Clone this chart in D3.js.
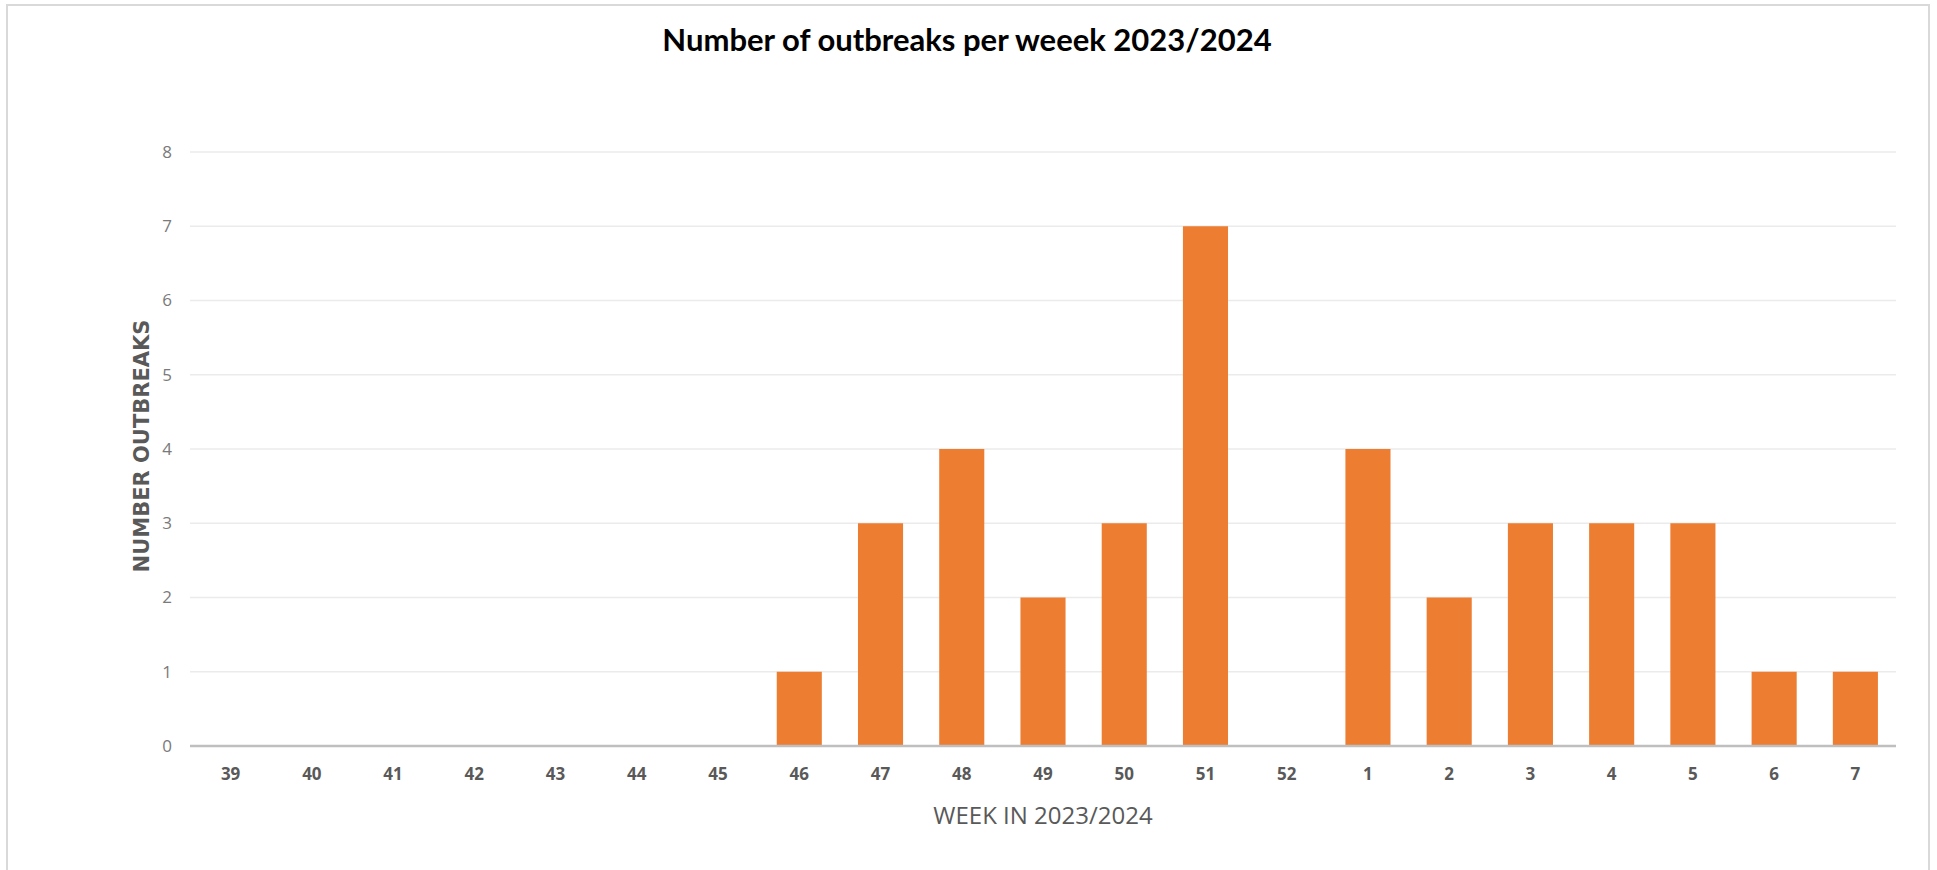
<!DOCTYPE html>
<html lang="en">
<head>
    <meta charset="UTF-8">
    <title>Number of outbreaks per weeek 2023/2024</title>
    <script src="https://cdn.jsdelivr.net/npm/d3@7"></script>
    <style>
        body { margin: 0; background: #fff; }
        svg { display: block; }
    </style>
</head>
<body>
    <main></main>

    <script>
        // weeks of the 2023/2024 season and outbreak counts
        var weeks = ['39', '40', '41', '42', '43', '44', '45', '46', '47', '48', '49', '50', '51', '52',
            '1', '2', '3', '4', '5', '6', '7'];
        var outbreaks = [0, 0, 0, 0, 0, 0, 0, 1, 3, 4, 2, 3, 7, 0, 4, 2, 3, 3, 3, 1, 1];
        var yTicks = [0, 1, 2, 3, 4, 5, 6, 7, 8];

        var width = 1937;
        var height = 870;

        var svg = d3.select('main')
            .append('svg')
            .attr('width', width)
            .attr('height', height);

        // chart area frame
        svg.append('rect')
            .attr('x', 7)
            .attr('y', 5)
            .attr('width', 1922)
            .attr('height', 900)
            .attr('fill', 'none')
            .attr('stroke', '#d9d9d9')
            .attr('stroke-width', 2);

        svg.append('text')
            .attr('x', 967)
            .attr('y', 51)
            .attr('text-anchor', 'middle')
            .style('font-family', 'Lato, "Open Sans", sans-serif')
            .style('font-weight', 'bold')
            .style('font-size', '31px')
            .attr('fill', '#000')
            .text('Number of outbreaks per weeek 2023/2024');

        var x = d3.scaleBand()
            .domain(weeks)
            .range([190, 1896])
            .paddingInner(0.445)
            .paddingOuter(0.2225);

        var y = d3.scaleLinear()
            .domain([0, 8])
            .range([746, 152]);

        // gridlines
        svg.append('g')
            .selectAll('line')
            .data(yTicks.slice(1))
            .enter()
            .append('line')
            .attr('x1', 190)
            .attr('x2', 1896)
            .attr('y1', d => y(d))
            .attr('y2', d => y(d))
            .attr('stroke', '#ebebeb')
            .attr('stroke-width', 1.5);

        // y tick labels
        svg.append('g')
            .selectAll('text')
            .data(yTicks)
            .enter()
            .append('text')
            .attr('x', 172)
            .attr('y', d => y(d))
            .attr('dy', '0.35em')
            .attr('text-anchor', 'end')
            .style('font-family', '"Open Sans", sans-serif')
            .style('font-size', '17px')
            .attr('fill', '#7a7a7a')
            .text(d => d);

        svg.append('g')
            .selectAll('rect')
            .data(outbreaks)
            .enter()
            .append('rect')
            .attr('x', (d, i) => x(weeks[i]))
            .attr('y', d => y(d))
            .attr('width', x.bandwidth())
            .attr('height', d => y(0) - y(d))
            .attr('fill', '#ed7d31');

        // baseline
        svg.append('line')
            .attr('x1', 190)
            .attr('x2', 1896)
            .attr('y1', y(0))
            .attr('y2', y(0))
            .attr('stroke', '#bfbfbf')
            .attr('stroke-width', 2.5);

        // x tick labels
        svg.append('g')
            .selectAll('text')
            .data(weeks)
            .enter()
            .append('text')
            .attr('x', d => x(d) + x.bandwidth() / 2)
            .attr('y', 780)
            .attr('text-anchor', 'middle')
            .style('font-family', '"Open Sans", sans-serif')
            .style('font-weight', 'bold')
            .style('font-size', '17px')
            .attr('fill', '#595959')
            .text(d => d);

        svg.append('text')
            .attr('x', 1043)
            .attr('y', 824)
            .attr('text-anchor', 'middle')
            .style('font-family', '"Open Sans", sans-serif')
            .style('font-size', '24px')
            .attr('fill', '#595959')
            .text('WEEK IN 2023/2024');

        svg.append('text')
            .attr('transform', 'translate(149, 446) rotate(-90)')
            .attr('text-anchor', 'middle')
            .style('font-family', '"DejaVu Sans", sans-serif')
            .style('font-weight', 'bold')
            .style('font-size', '21px')
            .attr('fill', '#595959')
            .text('NUMBER OUTBREAKS');
    </script>
</body>
</html>
